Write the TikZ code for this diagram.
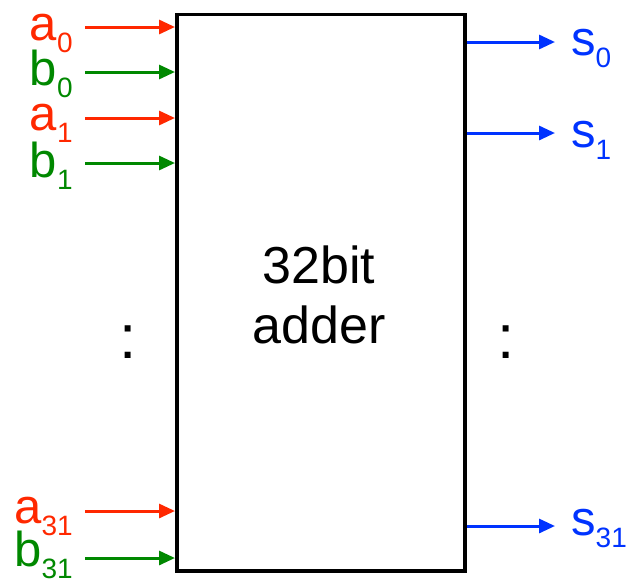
\documentclass[tikz,border=0pt]{standalone}
\usepackage{fontspec}
\setmainfont{Liberation Sans}
\usetikzlibrary{arrows.meta}
\definecolor{cA}{RGB}{255,40,0}
\definecolor{cB}{RGB}{0,136,0}
\definecolor{cS}{RGB}{0,51,255}
\newcommand{\lblsub}[2]{#1\raisebox{-12pt}{\fontsize{28}{28}\selectfont #2}}
\begin{document}
\begin{tikzpicture}[x=1pt,y=-1pt,
  arr/.style={line width=3pt,-{Triangle[length=16pt,width=14pt]}},
  lbl/.style={inner sep=0pt,font=\fontsize{49}{49}\selectfont},
  big/.style={inner sep=0pt,font=\fontsize{52}{52}\selectfont},
  colon/.style={inner sep=0pt,font=\fontsize{62}{62}\selectfont}]
\useasboundingbox (0,0) rectangle (631,582);
\node[draw,line width=3.5pt,minimum width=288pt,minimum height=556.5pt,inner sep=0pt,anchor=north west] (box) at (175,12.5) {};
\node[big,anchor=base] (t1) at (319,283) {32bit};
\node[big,anchor=base] (t2) at (319,343) {adder};
% inputs
\coordinate (a0s) at (85,27);
\coordinate (b0s) at (85,72);
\coordinate (a1s) at (85,118);
\coordinate (b1s) at (85,163);
\coordinate (a31s) at (85,511);
\coordinate (b31s) at (85,558);
\draw[arr,cA] (a0s) -- (a0s -| box.west);
\draw[arr,cB] (b0s) -- (b0s -| box.west);
\draw[arr,cA] (a1s) -- (a1s -| box.west);
\draw[arr,cB] (b1s) -- (b1s -| box.west);
\draw[arr,cA] (a31s) -- (a31s -| box.west);
\draw[arr,cB] (b31s) -- (b31s -| box.west);
\node[lbl,cA,anchor=base east] (la0) at (73,40) {\lblsub{a}{0}};
\node[lbl,cB,anchor=base east] (lb0) at (73,85) {\lblsub{b}{0}};
\node[lbl,cA,anchor=base east] (la1) at (73,130) {\lblsub{a}{1}};
\node[lbl,cB,anchor=base east] (lb1) at (73,177) {\lblsub{b}{1}};
\node[lbl,cA,anchor=base east] (la31) at (73,523) {\lblsub{a}{31}};
\node[lbl,cB,anchor=base east] (lb31) at (73,566) {\lblsub{b}{31}};
% outputs
\coordinate (s0e) at (555,42);
\coordinate (s1e) at (555,133);
\coordinate (s31e) at (555,526);
\draw[arr,cS] (s0e -| box.east) -- (s0e);
\draw[arr,cS] (s1e -| box.east) -- (s1e);
\draw[arr,cS] (s31e -| box.east) -- (s31e);
\node[lbl,cS,anchor=base west] (ls0) at (571,55) {\lblsub{s}{0}};
\node[lbl,cS,anchor=base west] (ls1) at (571,147) {\lblsub{s}{1}};
\node[lbl,cS,anchor=base west] (ls31) at (571,535) {\lblsub{s}{31}};
% dots
\node[colon,anchor=base] (cl) at (128,358) {:};
\node[colon,anchor=base] (cr) at (506,358) {:};
\end{tikzpicture}
\end{document}
